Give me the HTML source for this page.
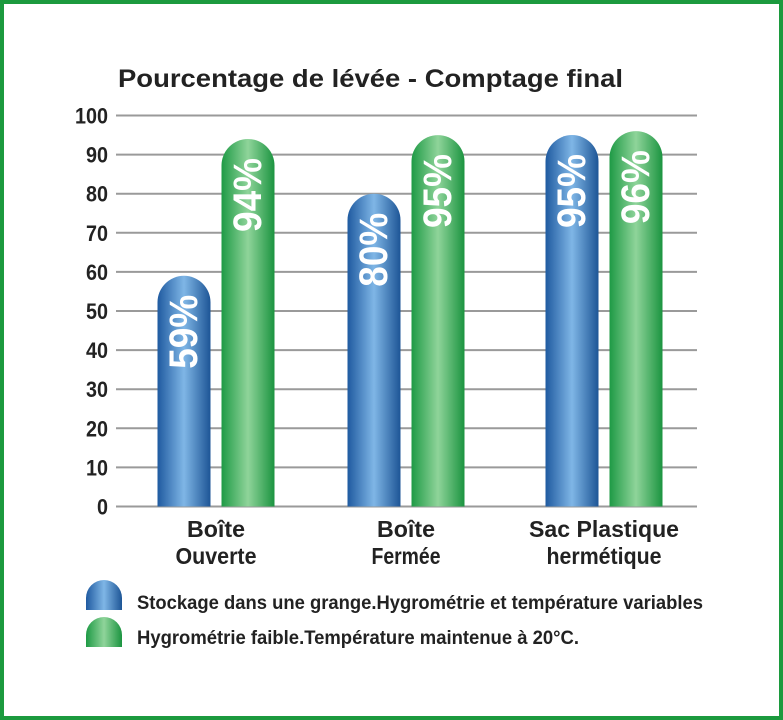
<!DOCTYPE html>
<html><head><meta charset="utf-8"><style>
html,body{margin:0;padding:0;background:#fff}
svg{display:block}
text{font-family:"Liberation Sans",sans-serif}
</style></head><body>
<svg id="chart" width="783" height="720" viewBox="0 0 783 720">
<defs>
<linearGradient id="gb" x1="0" x2="1" y1="0" y2="0">
<stop offset="0" stop-color="#1f5aa0"/><stop offset="0.5" stop-color="#7fb6e6"/><stop offset="1" stop-color="#1d5596"/></linearGradient>
<linearGradient id="gg" x1="0" x2="1" y1="0" y2="0">
<stop offset="0" stop-color="#1e9a45"/><stop offset="0.5" stop-color="#8fd49a"/><stop offset="1" stop-color="#1b9440"/></linearGradient>
</defs>
<rect x="2" y="2" width="779" height="716" fill="#fff" stroke="#1c9a3e" stroke-width="4"/>
<text x="118" y="87" font-size="25" font-weight="bold" fill="#222" textLength="505" lengthAdjust="spacingAndGlyphs">Pourcentage de lévée - Comptage final</text>
<g id="grid"></g>
<g id="bars"></g>
<g id="legend">
<path d="M86,610 V598 A18,18 0 0 1 122,598 V610 Z" fill="url(#gb)"/>
<text x="137" y="609" font-size="19" font-weight="bold" fill="#222" textLength="566" lengthAdjust="spacingAndGlyphs">Stockage dans une grange.Hygrométrie et température variables</text>
<path d="M86,647 V635 A18,18 0 0 1 122,635 V647 Z" fill="url(#gg)"/>
<text x="137" y="644" font-size="19" font-weight="bold" fill="#222" textLength="442" lengthAdjust="spacingAndGlyphs">Hygrométrie faible.Température maintenue à 20°C.</text>
</g>
</svg>
<script>
const categories = [["Boîte","Ouverte"],["Boîte","Fermée"],["Sac Plastique","hermétique"]];
const seriesGrange = [59, 80, 95];
const series20C = [94, 95, 96];
const yTicks = [0,10,20,30,40,50,60,70,80,90,100];
const NS="http://www.w3.org/2000/svg";
const y0=506.5, pxPerUnit=3.91;
function yScale(v){return y0 - v*pxPerUnit;}
const groupCenters=[216,406,604];
function xGroup(i){return groupCenters[i];}
const bw=53, gap=11;
const grid=document.getElementById('grid');
yTicks.forEach(t=>{
  const l=document.createElementNS(NS,'line');
  l.setAttribute('x1',116);l.setAttribute('x2',697);
  l.setAttribute('y1',yScale(t));l.setAttribute('y2',yScale(t));
  l.setAttribute('stroke','#9a9a9a');l.setAttribute('stroke-width','2');
  
  
  grid.appendChild(l);
  const tx=document.createElementNS(NS,'text');
  tx.setAttribute('x',108);tx.setAttribute('y',yScale(t)+8);
  tx.setAttribute('text-anchor','end');tx.setAttribute('font-size','22');
  tx.setAttribute('font-weight','bold');tx.setAttribute('fill','#222');
  tx.setAttribute('textLength',String(t).length*11);
  tx.setAttribute('lengthAdjust','spacingAndGlyphs');
  tx.textContent=t;
  
  
  grid.appendChild(tx);
});
const bars=document.getElementById('bars');
function bar(x,v,fill,name){
  const r=bw/2, top=yScale(v);
  const p=document.createElementNS(NS,'path');
  p.setAttribute('d',`M${x},${y0} V${top+r} A${r},${r} 0 0 1 ${x+bw},${top+r} V${y0} Z`);
  p.setAttribute('fill',fill);
  
  
  bars.appendChild(p);
  const t=document.createElementNS(NS,'text');
  const cx=x+bw/2+13, ty=top+19;
  t.setAttribute('x',cx);t.setAttribute('y',ty);
  t.setAttribute('transform',`rotate(-90 ${cx} ${ty})`);
  t.setAttribute('text-anchor','end');t.setAttribute('font-size','40');
  t.setAttribute('font-weight','bold');t.setAttribute('fill','#fff');
  t.setAttribute('textLength','74');
  t.setAttribute('lengthAdjust','spacingAndGlyphs');
  t.textContent=v+'%';
  
  
  bars.appendChild(t);
}
categories.forEach((c,i)=>{
  const cx=xGroup(i);
  bar(cx-gap/2-bw,seriesGrange[i],'url(#gb)','bar-grange-'+(i+1));
  bar(cx+gap/2,series20C[i],'url(#gg)','bar-20c-'+(i+1));
  c.forEach((line,j)=>{
    const t=document.createElementNS(NS,'text');
    t.setAttribute('x',cx);t.setAttribute('y',537+j*27);
    t.setAttribute('text-anchor','middle');t.setAttribute('font-size','23');
    t.setAttribute('font-weight','bold');t.setAttribute('fill','#222');
    t.setAttribute('textLength',Math.round(line.length*11.5));
    t.setAttribute('lengthAdjust','spacingAndGlyphs');
    t.textContent=line;
    
    
    bars.appendChild(t);
  });
});
</script>
</body></html>
